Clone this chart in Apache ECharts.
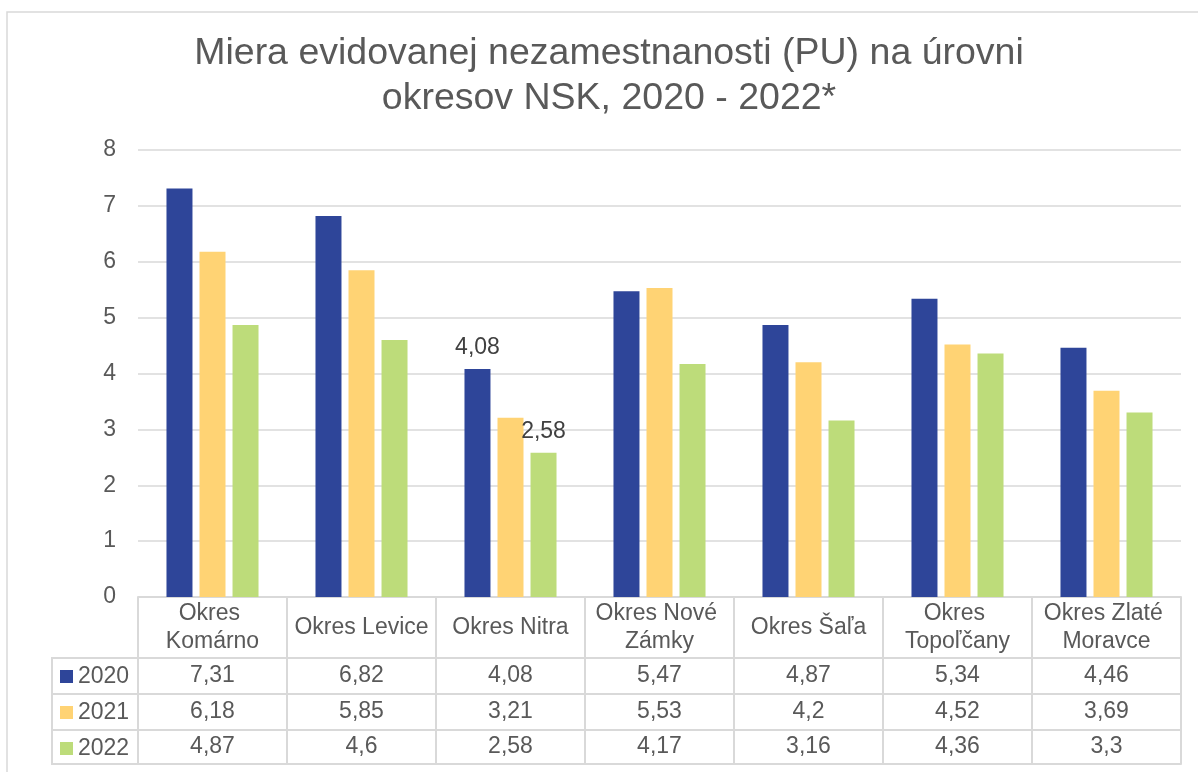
<!DOCTYPE html>
<html lang="sk">
<head>
    <meta charset="utf-8">
    <title>Miera evidovanej nezamestnanosti</title>
    <style>
        html, body { margin: 0; padding: 0; background: #fff; }
    </style>
</head>
<body>
    <div id="main" style="width:1198px;height:772px;"></div>
    <script src="https://cdn.jsdelivr.net/npm/echarts@6/dist/echarts.min.js"></script>
    <script type="text/javascript">
        // data
        var categories = ['Okres Komárno', 'Okres Levice', 'Okres Nitra', 'Okres Nové Zámky',
            'Okres Šaľa', 'Okres Topoľčany', 'Okres Zlaté Moravce'];
        var years = ['2020', '2021', '2022'];
        var values2020 = [7.31, 6.82, 4.08, 5.47, 4.87, 5.34, 4.46];
        var values2021 = [6.18, 5.85, 3.21, 5.53, 4.2, 4.52, 3.69];
        var values2022 = [4.87, 4.6, 2.58, 4.17, 3.16, 4.36, 3.3];
        var yTicks = [0, 1, 2, 3, 4, 5, 6, 7, 8];
        // which bars carry a label: [series index, category index]
        var labelled = [[0, 2], [2, 2]];

        var allValues = [values2020, values2021, values2022];
        var colors = ['#2E4599', '#FFD374', '#BDDC7A'];
        var textColor = '#595959';
        var lineColor = '#D9D9D9';
        var font = 'Liberation Sans, Arial, sans-serif';

        // layout
        var gridLeft = 138, gridRight = 17, gridTop = 150, gridBottom = 175;
        var headerH = 61;
        var rowH = [36, 36, 34];
        var legendLeft = 52;

        function fmt(v) { return String(v).replace('.', ','); }

        var myChart = echarts.init(document.getElementById('main'));

        var xAxes = [{
            type: 'category',
            data: categories,
            position: 'bottom',
            axisLine: { lineStyle: { color: lineColor, width: 2 } },
            axisTick: { show: true, length: headerH, lineStyle: { color: lineColor, width: 2 } },
            axisLabel: {
                interval: 0,
                color: textColor,
                fontFamily: font,
                fontSize: 23,
                lineHeight: 28,
                width: 145,
                overflow: 'break',
                align: 'center',
                verticalAlign: 'middle',
                margin: headerH / 2
            }
        }];

        var offset = headerH;
        years.forEach(function (y, i) {
            var h = rowH[i];
            xAxes.push({
                type: 'category',
                data: categories,
                position: 'bottom',
                offset: offset,
                axisLine: { lineStyle: { color: lineColor, width: 2 } },
                axisTick: { show: true, length: h, lineStyle: { color: lineColor, width: 2 } },
                axisLabel: {
                    interval: 0,
                    color: textColor,
                    fontFamily: font,
                    fontSize: 23,
                    verticalAlign: 'middle',
                    margin: h / 2,
                    formatter: function (v, idx) { return fmt(allValues[i][idx]); }
                }
            });
            offset += h;
        });
        // bottom border of the table
        xAxes.push({
            type: 'category',
            data: categories,
            position: 'bottom',
            offset: offset,
            axisLine: { lineStyle: { color: lineColor, width: 2 } },
            axisTick: { show: false },
            axisLabel: { show: false }
        });

        var series = years.map(function (y, i) {
            return {
                name: y,
                type: 'bar',
                barWidth: 26,
                barGap: '27%',
                itemStyle: { color: colors[i] },
                label: {
                    position: 'top',
                    distance: 10,
                    color: '#404040',
                    fontFamily: font,
                    fontSize: 23,
                    formatter: function (p) { return fmt(p.value); }
                },
                data: allValues[i].map(function (v, j) {
                    var show = labelled.some(function (l) { return l[0] === i && l[1] === j; });
                    return show ? { value: v, label: { show: true } } : v;
                })
            };
        });

        // legend column borders of the data table
        var chartH = 772;
        var tableTop = chartH - gridBottom + headerH;
        var graphics = [{
            type: 'rect',
            shape: { x: 7, y: 12, width: 1300, height: 900 },
            style: { fill: 'none', stroke: lineColor, lineWidth: 1.5 },
            silent: true
        }, {
            type: 'line',
            shape: { x1: legendLeft, y1: tableTop - 1, x2: legendLeft, y2: tableTop + rowH[0] + rowH[1] + rowH[2] + 1 },
            style: { stroke: lineColor, lineWidth: 2 },
            silent: true
        }];
        var yy = tableTop;
        for (var k = 0; k <= rowH.length; k++) {
            graphics.push({
                type: 'line',
                shape: { x1: legendLeft, y1: yy, x2: gridLeft, y2: yy },
                style: { stroke: lineColor, lineWidth: 2 },
                silent: true
            });
            if (k < rowH.length) yy += rowH[k];
        }

        var option = {
            animation: false,
            backgroundColor: '#fff',
            title: {
                text: 'Miera evidovanej nezamestnanosti (PU) na úrovni\nokresov NSK, 2020 - 2022*',
                left: 609,
                top: 31,
                padding: 0,
                textAlign: 'center',
                textStyle: {
                    color: textColor,
                    fontFamily: font,
                    fontSize: 37.5,
                    fontWeight: 'normal',
                    lineHeight: 45
                }
            },
            legend: {
                data: years,
                orient: 'vertical',
                left: 60,
                top: tableTop + 7,
                padding: 0,
                itemGap: 13,
                itemWidth: 13,
                itemHeight: 13,
                icon: 'rect',
                textStyle: { color: textColor, fontFamily: font, fontSize: 23, lineHeight: 23 }
            },
            grid: {
                left: gridLeft,
                right: gridRight,
                top: gridTop,
                bottom: gridBottom,
                containLabel: false
            },
            xAxis: xAxes,
            yAxis: {
                type: 'value',
                min: yTicks[0],
                max: yTicks[yTicks.length - 1],
                interval: 1,
                axisLine: { show: false },
                axisTick: { show: false },
                splitLine: { lineStyle: { color: lineColor, width: 1.5 } },
                axisLabel: {
                    color: textColor,
                    fontFamily: font,
                    fontSize: 23,
                    margin: 22
                }
            },
            graphic: graphics,
            series: series
        };
        myChart.setOption(option);
    </script>
</body>
</html>
